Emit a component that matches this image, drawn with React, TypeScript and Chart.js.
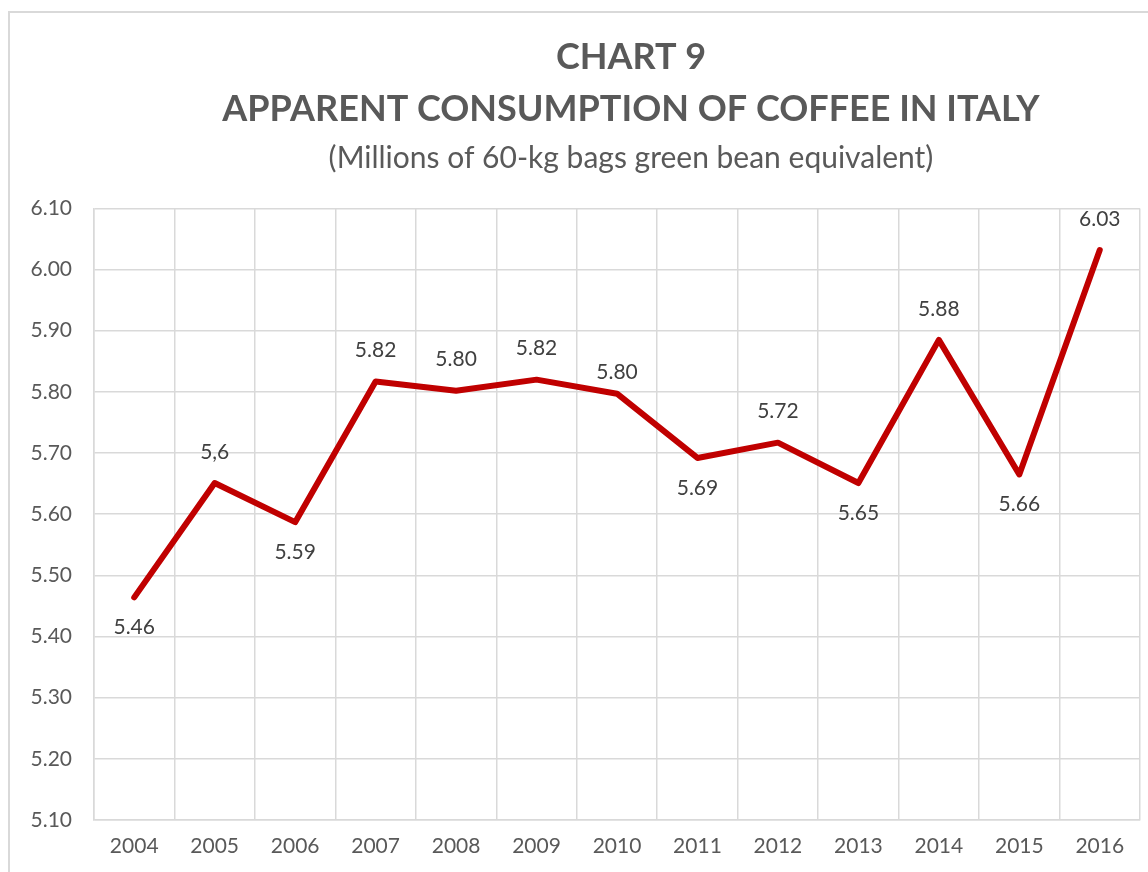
import React, { useEffect, useRef } from "react";
import { Chart, registerables } from "chart.js";

Chart.register(...registerables);

const years = ["2004", "2005", "2006", "2007", "2008", "2009", "2010", "2011", "2012", "2013", "2014", "2015", "2016"];
const consumption = [5.464, 5.651, 5.587, 5.817, 5.802, 5.82, 5.797, 5.692, 5.717, 5.651, 5.885, 5.665, 6.032];
const valueLabels = ["5.46", "5,6", "5.59", "5.82", "5.80", "5.82", "5.80", "5.69", "5.72", "5.65", "5.88", "5.66", "6.03"];
const labelSide = ["below", "above", "below", "above", "above", "above", "above", "below", "above", "below", "above", "below", "above"];
const yTicks = [5.1, 5.2, 5.3, 5.4, 5.5, 5.6, 5.7, 5.8, 5.9, 6.0, 6.1];

const FONT = "Lato, 'Open Sans', sans-serif";
const CANVAS_W = 1262;

const dataLabelPlugin = {
  id: "dataLabels",
  afterDatasetsDraw(chart: any) {
    const meta = chart.getDatasetMeta(0);
    const ctx = chart.ctx;
    ctx.save();
    ctx.font = `21px ${FONT}`;
    ctx.fillStyle = "#404040";
    ctx.textAlign = "center";
    ctx.textBaseline = "middle";
    meta.data.forEach((pt: any, i: number) => {
      const dy = labelSide[i] === "above" ? (i === 6 ? -21 : -31) : 30;
      ctx.fillText(valueLabels[i], pt.x, pt.y + dy);
    });
    ctx.restore();
  },
};

export default function App() {
  const ref = useRef<HTMLCanvasElement>(null);
  useEffect(() => {
    if (!ref.current) return;
    const chart = new Chart(ref.current, {
      type: "line",
      data: {
        labels: years,
        datasets: [
          {
            data: consumption,
            yAxisID: "y",
            borderColor: "#C00000",
            borderWidth: 6,
            borderCapStyle: "round",
            borderJoinStyle: "round",
            pointRadius: 0,
            tension: 0,
            fill: false,
          },
        ],
      },
      options: {
        animation: false,
        responsive: false,
        layout: { padding: { top: 31, left: 0, right: 0, bottom: 0 } },
        plugins: {
          legend: { display: false },
          tooltip: { enabled: false },
          title: {
            display: true,
            text: ["CHART 9", "APPARENT CONSUMPTION OF COFFEE IN ITALY"],
            color: "#595959",
            font: { family: FONT, size: 36, weight: "bold", lineHeight: 1.45 },
            padding: { top: 0, bottom: 5 },
          },
          subtitle: {
            display: true,
            text: "(Millions of 60-kg bags green bean equivalent)",
            color: "#595959",
            font: { family: FONT, size: 30, weight: "normal", lineHeight: 1.2 },
            padding: { top: 0, bottom: 32 },
          },
        },
        scales: {
          x: {
            offset: true,
            grid: { offset: true, color: "#d9d9d9", lineWidth: 1.5, drawTicks: false },
            border: { color: "#d9d9d9", width: 1.5 },
            ticks: { color: "#595959", font: { family: FONT, size: 21 }, padding: 14, maxRotation: 0 },
            afterFit: (s: any) => {
              s.height = 52;
            },
          },
          y: {
            min: 5.1,
            max: 6.1,
            afterBuildTicks: (s: any) => {
              s.ticks = yTicks.map((v) => ({ value: v }));
            },
            grid: { color: "#d9d9d9", lineWidth: 1.5, drawTicks: false },
            border: { color: "#d9d9d9", width: 1.5 },
            ticks: {
              color: "#595959",
              font: { family: FONT, size: 21 },
              padding: 22,
              callback: (v: any) => Number(v).toFixed(2),
            },
            afterFit: (s: any) => {
              s.width = 94;
            },
          },
          yRight: {
            position: "right",
            min: 5.1,
            max: 6.1,
            grid: { display: false, drawOnChartArea: false },
            border: { display: false },
            ticks: { display: false },
            afterFit: (s: any) => {
              s.width = CANVAS_W - 1140;
            },
          },
        },
      },
      plugins: [dataLabelPlugin],
    } as any);
    return () => chart.destroy();
  }, []);
  return (
    <div style={{ position: "fixed", left: 0, top: 0, width: 1148, height: 872, overflow: "hidden", background: "#fff" }}>
      <div
        style={{
          position: "absolute",
          left: 8,
          top: 11,
          width: 1300,
          height: 900,
          border: "2px solid #d9d9d9",
          boxSizing: "border-box",
        }}
      />
      <canvas ref={ref} width={CANVAS_W} height={872} style={{ position: "absolute", left: 0, top: 0 }} />
    </div>
  );
}
